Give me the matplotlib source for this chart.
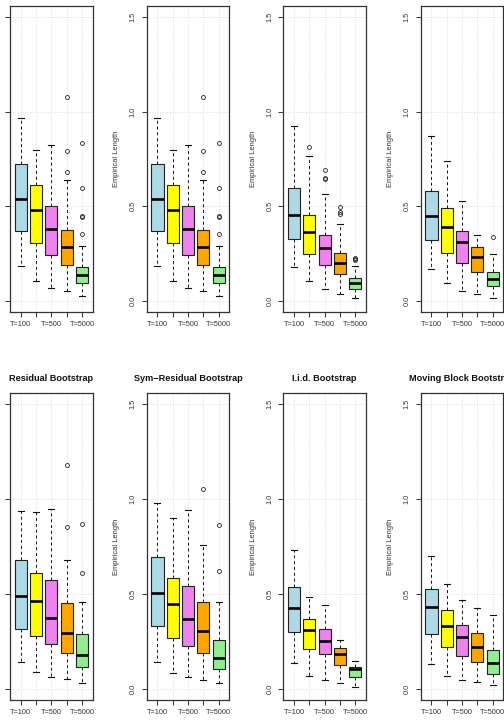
import matplotlib
matplotlib.use("Agg")
import matplotlib.pyplot as plt

plt.rcParams['font.family'] = ['Liberation Sans', 'DejaVu Sans']

# ---------------- data ----------------
tick_labels = ["T=100", "", "T=500", "", "T=5000"]
box_colors = ["#ADD8E6", "#FFFF00", "#EE82EE", "#FFA500", "#90EE90"]
titles = ["", "", "", "",
          "Residual Bootstrap", "Sym\u2212Residual Bootstrap",
          "I.i.d. Bootstrap", "Moving Block Bootstrap"]
y_label = "Empirical Length"
y_ticks = [0.0, 0.5, 1.0, 1.5]

# panel 1 (top row, col 1)
p1_low = [0.183, 0.102, 0.067, 0.049, 0.025]
p1_q1 = [0.371, 0.303, 0.241, 0.190, 0.092]
p1_med = [0.537, 0.482, 0.379, 0.282, 0.134]
p1_q3 = [0.725, 0.614, 0.500, 0.373, 0.176]
p1_high = [0.968, 0.798, 0.826, 0.641, 0.292]
p1_out = [[], [], [], [1.079, 0.794, 0.680], [0.836, 0.597, 0.449, 0.444, 0.354]]

# panel 2 (top row, col 2)
p2_low = [0.183, 0.102, 0.067, 0.049, 0.025]
p2_q1 = [0.371, 0.303, 0.241, 0.190, 0.092]
p2_med = [0.537, 0.482, 0.379, 0.282, 0.134]
p2_q3 = [0.725, 0.614, 0.500, 0.373, 0.176]
p2_high = [0.968, 0.798, 0.826, 0.641, 0.292]
p2_out = [[], [], [], [1.079, 0.794, 0.680], [0.836, 0.597, 0.449, 0.444, 0.354]]

# panel 3 (top row, col 3)
p3_low = [0.176, 0.102, 0.062, 0.037, 0.014]
p3_q1 = [0.327, 0.245, 0.190, 0.139, 0.063]
p3_med = [0.456, 0.364, 0.280, 0.201, 0.093]
p3_q3 = [0.595, 0.456, 0.347, 0.254, 0.118]
p3_high = [0.926, 0.766, 0.567, 0.408, 0.185]
p3_out = [[], [0.812], [0.694, 0.651, 0.646], [0.498, 0.467, 0.461], [0.227, 0.220, 0.213]]

# panel 4 (top row, col 4)
p4_low = [0.167, 0.093, 0.053, 0.035, 0.016]
p4_q1 = [0.319, 0.250, 0.202, 0.151, 0.076]
p4_med = [0.447, 0.389, 0.308, 0.232, 0.113]
p4_q3 = [0.583, 0.489, 0.371, 0.282, 0.150]
p4_high = [0.870, 0.739, 0.526, 0.347, 0.246]
p4_out = [[], [], [], [], [0.335]]

# panel 5 (Residual Bootstrap)
p5_low = [0.138, 0.088, 0.063, 0.051, 0.030]
p5_q1 = [0.317, 0.280, 0.233, 0.190, 0.115]
p5_med = [0.487, 0.462, 0.372, 0.293, 0.178]
p5_q3 = [0.681, 0.612, 0.571, 0.451, 0.289]
p5_high = [0.937, 0.933, 0.949, 0.679, 0.457]
p5_out = [[], [], [], [1.180, 0.852], [0.870, 0.612]]

# panel 6 (Sym-Residual Bootstrap)
p6_low = [0.143, 0.085, 0.062, 0.048, 0.030]
p6_q1 = [0.332, 0.268, 0.224, 0.189, 0.102]
p6_med = [0.503, 0.446, 0.367, 0.305, 0.164]
p6_q3 = [0.697, 0.584, 0.543, 0.459, 0.254]
p6_high = [0.981, 0.901, 0.945, 0.760, 0.459]
p6_out = [[], [], [], [1.053], [0.861, 0.621]]

# panel 7 (I.i.d. Bootstrap)
p7_low = [0.134, 0.065, 0.048, 0.030, 0.011]
p7_q1 = [0.300, 0.210, 0.183, 0.123, 0.062]
p7_med = [0.427, 0.310, 0.249, 0.182, 0.101]
p7_q3 = [0.536, 0.367, 0.317, 0.212, 0.115]
p7_high = [0.732, 0.483, 0.443, 0.259, 0.145]
p7_out = [[], [], [], [], []]

# panel 8 (Moving Block Bootstrap)
p8_low = [0.131, 0.067, 0.044, 0.034, 0.018]
p8_q1 = [0.287, 0.222, 0.173, 0.139, 0.079]
p8_med = [0.429, 0.332, 0.272, 0.220, 0.136]
p8_q3 = [0.526, 0.416, 0.335, 0.295, 0.205]
p8_high = [0.702, 0.554, 0.469, 0.425, 0.388]
p8_out = [[], [], [], [], []]

panels = [
    (p1_low, p1_q1, p1_med, p1_q3, p1_high, p1_out),
    (p2_low, p2_q1, p2_med, p2_q3, p2_high, p2_out),
    (p3_low, p3_q1, p3_med, p3_q3, p3_high, p3_out),
    (p4_low, p4_q1, p4_med, p4_q3, p4_high, p4_out),
    (p5_low, p5_q1, p5_med, p5_q3, p5_high, p5_out),
    (p6_low, p6_q1, p6_med, p6_q3, p6_high, p6_out),
    (p7_low, p7_q1, p7_med, p7_q3, p7_high, p7_out),
    (p8_low, p8_q1, p8_med, p8_q3, p8_high, p8_out),
]

# ---------------- layout (pixels) ----------------
W, H = 504, 728
fig = plt.figure(figsize=(W / 100, H / 100), dpi=100)
fig.patch.set_facecolor("white")

col_left = [10.0, 146.7, 283.3, 420.7]
ax_w = 82.7
row_top = [6.0, 393.0]
row_bot = [312.0, 700.0]

for i, (lo, q1, med, q3, hi, out) in enumerate(panels):
    r, c = divmod(i, 4)
    l = col_left[c]
    t, b = row_top[r], row_bot[r]
    ax = fig.add_axes([l / W, (H - b) / H, ax_w / W, (b - t) / H])

    stats = []
    for k in range(len(lo)):
        stats.append(dict(whislo=lo[k], q1=q1[k], med=med[k], q3=q3[k],
                          whishi=hi[k], fliers=out[k]))
    positions = list(range(1, len(stats) + 1))
    bp = ax.bxp(stats, positions=positions, widths=0.8, patch_artist=True,
                showfliers=True, capwidths=0.4,
                boxprops=dict(edgecolor="#222222", linewidth=0.8),
                medianprops=dict(color="black", linewidth=1.9,
                                 solid_capstyle="butt"),
                whiskerprops=dict(color="#111111", linewidth=0.7,
                                  linestyle=(0, (3, 3))),
                capprops=dict(color="#111111", linewidth=0.8),
                flierprops=dict(marker="o", markerfacecolor="none",
                                markeredgecolor="#222222", markersize=2.8,
                                markeredgewidth=0.6, linestyle="none"))
    for patch, col in zip(bp["boxes"], box_colors):
        patch.set_facecolor(col)

    ax.set_xlim(0.3, 5.7)
    ax.set_ylim(-0.06, 1.56)
    ax.set_xticks(positions)
    ax.set_xticklabels(tick_labels)
    ax.set_yticks(y_ticks)
    ax.set_yticklabels([f"{v:.1f}" for v in y_ticks])

    ax.set_axisbelow(True)
    ax.grid(True, linestyle=(0, (1, 2)), color="#D3D3D3", linewidth=0.6)

    for sp in ax.spines.values():
        sp.set_color("#333333")
        sp.set_linewidth(0.9)

    ax.tick_params(axis="both", direction="out", length=3.3, width=0.7,
                   color="#333333", labelsize=5.3, labelcolor="#333333")
    ax.tick_params(axis="x", pad=3.2)
    ax.tick_params(axis="y", pad=3.8, labelrotation=90)
    for lab in ax.get_yticklabels():
        lab.set_va("center")

    if titles[i]:
        ax.set_title(titles[i], fontsize=6.6, fontweight="bold", pad=8.5,
                     color="#111111")

    # y-axis label placed in pixels
    fig.text((l - 30) / W, 1 - ((t + b) / 2) / H, y_label, rotation=90,
             ha="center", va="center", fontsize=5.4, color="#333333")

fig.savefig("out.png", dpi=100, facecolor="white")
